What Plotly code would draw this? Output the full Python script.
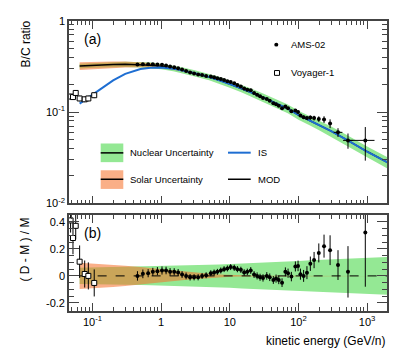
import numpy as np
import plotly.graph_objects as go

# model curves, kinetic energy in GeV/n
e_mod = [0.065, 0.1, 0.2, 0.3, 0.5, 0.7, 1.0, 1.5, 2, 3, 5, 7, 10, 15, 20, 30, 50, 70,
         100, 150, 200, 300, 500, 700, 1000, 2000]
bc_mod = [0.320, 0.326, 0.331, 0.333, 0.331, 0.326, 0.317, 0.302, 0.289, 0.268, 0.243,
          0.224, 0.203, 0.181, 0.166, 0.146, 0.122, 0.109, 0.093, 0.080, 0.072, 0.062,
          0.050, 0.043, 0.037, 0.028]
bc_is = [0.124, 0.155, 0.222, 0.262, 0.296, 0.306, 0.307, 0.299, 0.288, 0.268, 0.243,
         0.224, 0.203, 0.181, 0.166, 0.146, 0.122, 0.109, 0.093, 0.080, 0.072, 0.062,
         0.050, 0.043, 0.037, 0.028]
nuc_unc = [0.060, 0.062, 0.064, 0.066, 0.068, 0.069, 0.070, 0.072, 0.074, 0.077, 0.082,
           0.085, 0.088, 0.093, 0.096, 0.100, 0.105, 0.108, 0.111, 0.116, 0.119, 0.123,
           0.128, 0.131, 0.134, 0.140]
sol_unc = [0.097, 0.092, 0.082, 0.075, 0.066, 0.058, 0.050, 0.040, 0.033, 0.024, 0.015,
           0.010, 0.006, 0.004, 0.003, 0.002, 0.001, 0.001, 0, 0, 0, 0, 0, 0, 0, 0]

# AMS-02
e_ams = [0.452, 0.542, 0.647, 0.757, 0.883, 1.03, 1.18, 1.35, 1.55, 1.77, 2.02, 2.31,
         2.64, 3.02, 3.46, 3.95, 4.52, 5.29, 5.91, 6.60, 7.40, 8.26, 9.23, 10.3, 11.6,
         12.9, 14.5, 16.2, 18.0, 20.2, 22.6, 25.0, 27.6, 30.5, 34.6, 38.2, 43.1, 47.2,
         51.7, 57.7, 64.5, 70.6, 78.9, 90.2, 98.7, 107, 119, 133, 149, 169, 198, 236,
         289, 377, 527, 942]
bc_ams = [0.331, 0.335, 0.334, 0.334, 0.331, 0.329, 0.323, 0.315, 0.310, 0.302, 0.292,
          0.282, 0.272, 0.265, 0.258, 0.255, 0.249, 0.245, 0.240, 0.235, 0.230, 0.225,
          0.218, 0.214, 0.207, 0.198, 0.191, 0.181, 0.176, 0.173, 0.162, 0.155, 0.149,
          0.143, 0.139, 0.133, 0.125, 0.122, 0.117, 0.110, 0.115, 0.110, 0.102, 0.104,
          0.100, 0.092, 0.088, 0.086, 0.087, 0.086, 0.084, 0.083, 0.075, 0.060, 0.049,
          0.049]
res_ams = [0.0, 0.015, 0.02, 0.03, 0.035, 0.04, 0.04, 0.03, 0.03, 0.025, 0.01, 0.0,
           -0.01, -0.01, -0.01, 0.0, 0.005, 0.02, 0.025, 0.03, 0.04, 0.05, 0.055, 0.065,
           0.06, 0.05, 0.045, 0.025, 0.03, 0.04, 0.01, 0.0, -0.01, -0.015, 0.0, -0.01,
           -0.03, -0.02, -0.03, -0.05, 0.03, 0.02, -0.005, 0.07, 0.074, 0.013, 0.0, 0.024,
           0.09, 0.117, 0.17, 0.22, 0.19, 0.08, 0.03, 0.32]
err_ams = [0.035, 0.032, 0.03, 0.03, 0.03, 0.03, 0.028, 0.028, 0.027, 0.026, 0.025, 0.025,
           0.024, 0.023, 0.023, 0.022, 0.022, 0.022, 0.022, 0.022, 0.022, 0.022, 0.022,
           0.022, 0.023, 0.023, 0.023, 0.024, 0.024, 0.025, 0.025, 0.026, 0.026, 0.027,
           0.028, 0.028, 0.029, 0.03, 0.031, 0.032, 0.033, 0.034, 0.035, 0.037, 0.039,
           0.041, 0.044, 0.048, 0.053, 0.06, 0.07, 0.085, 0.11, 0.11, 0.19, 0.40]
xlo_ams = [0] * 53 + [50, 80, 400]
xhi_ams = [0] * 53 + [60, 100, 340]

# Voyager-1
e_voy = [0.048, 0.052, 0.057, 0.065, 0.077, 0.087, 0.106]
bc_voy = [0.148, 0.146, 0.162, 0.141, 0.138, 0.141, 0.153]
res_voy = [0.41, 0.28, 0.37, 0.105, 0.014, 0.0, -0.052]
err_voy = [0.09, 0.12, 0.1, 0.12, 0.1, 0.1, 0.1]

GREEN = "rgb(148,232,148)"
ORANGE = "rgba(245,110,40,0.55)"
BLUE = "rgb(30,110,210)"
FONT = "Liberation Sans"

e_m = np.array(e_mod)
m = np.array(bc_mod)
nu = np.array(nuc_unc)
so = np.array(sol_unc)
band_x = list(e_m) + list(e_m[::-1])

fig = go.Figure()

# top panel
fig.add_trace(go.Scatter(x=band_x, y=list(m * (1 + nu)) + list((m * (1 - nu))[::-1]),
                         fill="toself", fillcolor=GREEN, line=dict(width=0), mode="lines",
                         xaxis="x", yaxis="y"))
fig.add_trace(go.Scatter(x=band_x, y=list(m * (1 + so)) + list((m * (1 - so))[::-1]),
                         fill="toself", fillcolor=ORANGE, line=dict(width=0), mode="lines",
                         xaxis="x", yaxis="y"))
fig.add_trace(go.Scatter(x=e_mod, y=bc_mod, mode="lines", line=dict(color="black", width=1.5),
                         xaxis="x", yaxis="y"))
fig.add_trace(go.Scatter(x=e_mod, y=bc_is, mode="lines", line=dict(color=BLUE, width=2),
                         xaxis="x", yaxis="y"))
fig.add_trace(go.Scatter(x=e_ams, y=bc_ams, mode="markers",
                         marker=dict(color="black", size=4),
                         error_y=dict(type="data", array=list(np.array(bc_ams) * np.array(err_ams)),
                                      color="black", thickness=1, width=0),
                         error_x=dict(type="data", array=xhi_ams, arrayminus=xlo_ams,
                                      color="black", thickness=1, width=0),
                         xaxis="x", yaxis="y"))
fig.add_trace(go.Scatter(x=e_voy, y=bc_voy, mode="markers",
                         marker=dict(color="white", size=5, symbol="square",
                                     line=dict(color="black", width=1)),
                         error_y=dict(type="data", array=list(np.array(bc_voy) * 0.07),
                                      color="black", thickness=1, width=0),
                         xaxis="x", yaxis="y"))

# bottom panel
fig.add_trace(go.Scatter(x=band_x, y=list(nu) + list(-nu[::-1]),
                         fill="toself", fillcolor=GREEN, line=dict(width=0), mode="lines",
                         xaxis="x2", yaxis="y2"))
fig.add_trace(go.Scatter(x=band_x, y=list(so) + list(-so[::-1]),
                         fill="toself", fillcolor=ORANGE, line=dict(width=0), mode="lines",
                         xaxis="x2", yaxis="y2"))
fig.add_trace(go.Scatter(x=[e_mod[0], e_mod[-1]], y=[0, 0], mode="lines",
                         line=dict(color="black", width=1, dash="dash"),
                         xaxis="x2", yaxis="y2"))
fig.add_trace(go.Scatter(x=e_ams, y=res_ams, mode="markers",
                         marker=dict(color="black", size=4),
                         error_y=dict(type="data", array=err_ams, color="black",
                                      thickness=1, width=0),
                         xaxis="x2", yaxis="y2"))
fig.add_trace(go.Scatter(x=e_voy, y=res_voy, mode="markers",
                         marker=dict(color="white", size=5, symbol="square",
                                     line=dict(color="black", width=1)),
                         error_y=dict(type="data", array=err_voy, color="black",
                                      thickness=1, width=0),
                         xaxis="x2", yaxis="y2"))

W, H = 399, 357


def px(x):
    return x / W


def py(y):
    return 1 - y / H


x_major = [0.1, 1, 10, 100, 1000]
x_minor = [k * 10.0 ** p for p in range(-2, 4) for k in range(2, 10)]
x_minor = [v for v in x_minor if 0.045 < v < 1950]
xrange_log = [np.log10(0.0455), np.log10(1950)]

axis_common = dict(showline=True, linecolor="#444", linewidth=1.6, mirror="ticks",
                   ticks="inside", tickcolor="#444", showgrid=False, zeroline=False,
                   tickfont=dict(family=FONT, size=11, color="black"))

fig.update_layout(
    width=W, height=H, margin=dict(l=0, r=0, t=0, b=0),
    paper_bgcolor="white", plot_bgcolor="white", showlegend=False,
    font=dict(family=FONT, color="black"),
    xaxis=dict(type="log", range=xrange_log, domain=[px(61), px(379)], anchor="y",
               tickvals=x_major, ticklen=8, showticklabels=False,
               minor=dict(tickvals=x_minor, ticklen=4, ticks="inside", tickcolor="#444"),
               **axis_common),
    xaxis2=dict(type="log", range=xrange_log, domain=[px(61), px(379)], anchor="y2",
                tickvals=x_major,
                ticktext=["10<sup>-1</sup>", "1", "10", "10<sup>2</sup>", "10<sup>3</sup>"],
                ticklen=8,
                minor=dict(tickvals=x_minor, ticklen=4, ticks="inside", tickcolor="#444"),
                **axis_common),
    yaxis=dict(type="log", range=[-2, 0], domain=[py(196), py(7)], anchor="x",
               tickvals=[0.01, 0.1, 1], ticktext=["10<sup>-2</sup>", "10<sup>-1</sup>", "1"],
               ticklen=10,
               minor=dict(tickvals=[k * 10.0 ** p for p in (-2, -1) for k in range(2, 10)],
                          ticklen=5, ticks="inside", tickcolor="#444"),
               **axis_common),
    yaxis2=dict(range=[-0.257, 0.45], domain=[py(307), py(208)], anchor="x2",
                tickvals=[-0.2, 0, 0.2, 0.4], ticktext=["-0.2", "0", "0.2", "0.4"],
                ticklen=10,
                minor=dict(tickvals=[-0.25, -0.15, -0.1, -0.05, 0.05, 0.1, 0.15, 0.25, 0.3, 0.35],
                           ticklen=5, ticks="inside", tickcolor="#444"),
                **axis_common),
)

# legend drawn by hand
shapes = [
    dict(type="circle", xref="paper", yref="paper", x0=px(266.3), x1=px(270.3),
         y0=py(33.7), y1=py(29.7), fillcolor="black", line=dict(width=0)),
    dict(type="rect", xref="paper", yref="paper", x0=px(266.5), x1=px(271.5),
         y0=py(63.5), y1=py(58.5), fillcolor="white", line=dict(color="black", width=1)),
    dict(type="rect", xref="paper", yref="paper", x0=px(92.7), x1=px(115.3),
         y0=py(153.3), y1=py(134), fillcolor=GREEN, line=dict(width=0)),
    dict(type="line", xref="paper", yref="paper", x0=px(92.7), x1=px(115.3),
         y0=py(143.7), y1=py(143.7), line=dict(color="black", width=1.5)),
    dict(type="rect", xref="paper", yref="paper", x0=px(92.7), x1=px(115.3),
         y0=py(181), y1=py(161.7), fillcolor="rgb(250,175,135)", line=dict(width=0)),
    dict(type="line", xref="paper", yref="paper", x0=px(92.7), x1=px(115.3),
         y0=py(171), y1=py(171), line=dict(color="black", width=1.5)),
    dict(type="line", xref="paper", yref="paper", x0=px(220), x1=px(242.7),
         y0=py(143.5), y1=py(143.5), line=dict(color=BLUE, width=2)),
    dict(type="line", xref="paper", yref="paper", x0=px(220), x1=px(242.7),
         y0=py(171), y1=py(171), line=dict(color="black", width=1.5)),
]
fig.update_layout(shapes=shapes)


def label(text, x, y, size=9.5, xanchor="left", angle=0):
    fig.add_annotation(text=text, xref="paper", yref="paper", x=x, y=y, showarrow=False,
                       xanchor=xanchor, yanchor="middle", textangle=angle,
                       font=dict(family=FONT, size=size, color="black"))


label("AMS-02", px(281), py(31.5))
label("Voyager-1", px(281), py(61))
label("Nuclear Uncertainty", px(120), py(143.7))
label("Solar Uncertainty", px(120), py(171))
label("IS", px(248), py(143.5))
label("MOD", px(248), py(171))
label("(a)", px(84.5), py(26), size=14, xanchor="center")
label("(b)", px(84), py(226.5), size=14, xanchor="center")
label("B/C ratio", px(17.5), py(31), size=12, xanchor="center", angle=-90)
label("( D - M ) / M", px(16.7), py(244), size=12, xanchor="center", angle=-90)
label("kinetic energy (GeV/n)", px(379), py(338), size=12, xanchor="right")

fig.write_html("out.html")
